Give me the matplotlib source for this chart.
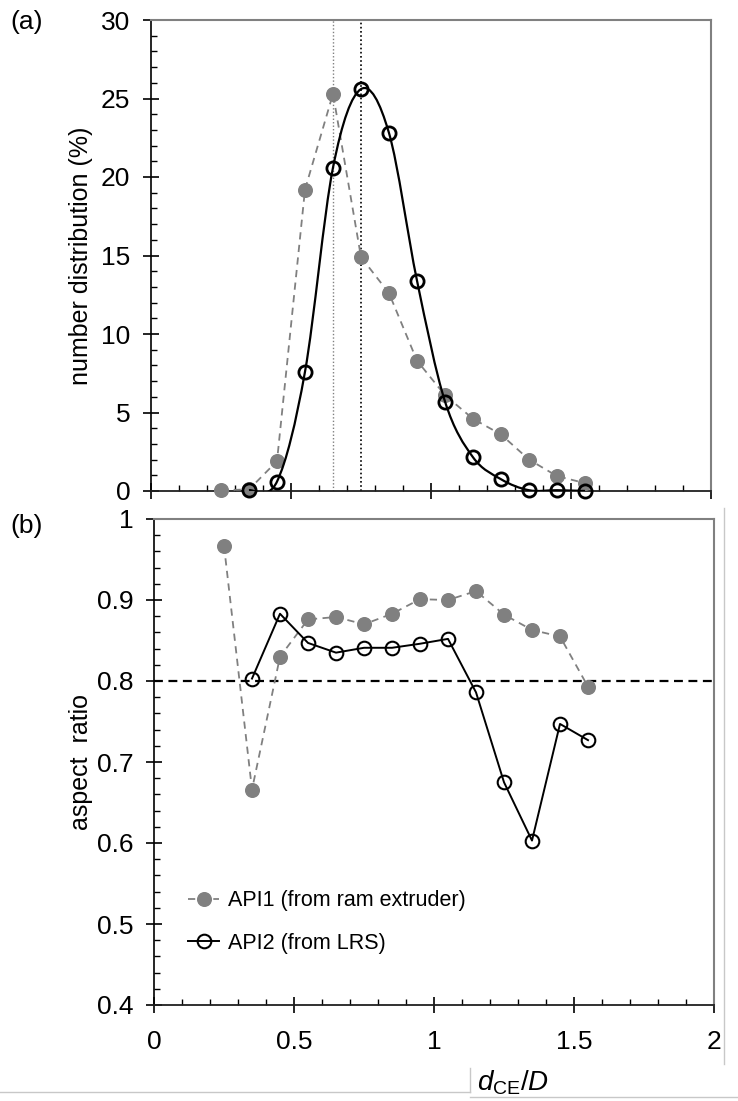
import numpy as np
import matplotlib
matplotlib.use("Agg")
import matplotlib.pyplot as plt
from matplotlib.path import Path
from matplotlib.patches import PathPatch
from matplotlib.lines import Line2D
from matplotlib.ticker import MultipleLocator, NullFormatter

plt.rcParams['font.family'] = ['Liberation Sans', 'DejaVu Sans']
plt.rcParams['mathtext.fontset'] = 'custom'
plt.rcParams['mathtext.rm'] = 'Liberation Sans'
plt.rcParams['mathtext.it'] = 'Liberation Sans:italic'

# ---------------- data ----------------
size_api1 = [0.25, 0.35, 0.45, 0.55, 0.65, 0.75, 0.85, 0.95, 1.05, 1.15, 1.25, 1.35, 1.45, 1.55]
dist_api1 = [0.05, 0.1, 1.9, 19.2, 25.3, 14.9, 12.6, 8.3, 6.1, 4.6, 3.6, 2.0, 0.95, 0.5]

size_api2 = [0.35, 0.45, 0.55, 0.65, 0.75, 0.85, 0.95, 1.05, 1.15, 1.25, 1.35, 1.45, 1.55]
dist_api2 = [0.05, 0.6, 7.6, 20.6, 25.6, 22.8, 13.4, 5.7, 2.15, 0.75, 0.05, 0.05, 0.0]

ar_api1 = [0.967, 0.666, 0.830, 0.876, 0.879, 0.870, 0.883, 0.901, 0.900, 0.911, 0.882, 0.863, 0.855, 0.793]
ar_api2 = [0.803, 0.883, 0.847, 0.835, 0.841, 0.841, 0.846, 0.852, 0.786, 0.675, 0.603, 0.747, 0.727]

peak_api1 = 0.65
peak_api2 = 0.75
ar_threshold = 0.8

label_api1 = 'API1 (from ram extruder)'
label_api2 = 'API2 (from LRS)'

GRAY = '#808080'

W, H = 738, 1101
fig = plt.figure(figsize=(W / 100, H / 100), dpi=100)

def fx(px):
    return px / W

def fy(py):
    return 1 - py / H

ax1 = fig.add_axes([fx(151), fy(491), 560 / W, (491 - 20) / H])
ax2 = fig.add_axes([fx(154), fy(1005), 560 / W, (1005 - 519) / H])


def smooth_path(xs, ys):
    """Excel-like smoothed line as cubic Bezier segments (Catmull-Rom control points)."""
    pts = np.column_stack([xs, ys]).astype(float)
    n = len(pts)
    verts = [pts[0]]
    codes = [Path.MOVETO]
    for i in range(n - 1):
        p0 = pts[i - 1] if i > 0 else pts[i]
        p1 = pts[i]
        p2 = pts[i + 1]
        p3 = pts[i + 2] if i + 2 < n else pts[i + 1]
        c1 = p1 + (p2 - p0) / 6.0
        c2 = p2 - (p3 - p1) / 6.0
        verts += [c1, c2, p2]
        codes += [Path.CURVE4] * 3
    return Path(verts, codes)


# ---------------- panel (a) ----------------
ax1.axvline(peak_api1, color=GRAY, ls=(0, (1, 1.5)), lw=1.0, zorder=1)
ax1.axvline(peak_api2, color='black', ls=(0, (1, 1.5)), lw=1.2, zorder=1)

ax1.plot(size_api1, dist_api1, ls=(0, (4, 3)), color=GRAY, lw=1.3,
         marker='o', ms=9.8, mfc=GRAY, mec=GRAY, zorder=3, clip_on=False)
ax1.add_patch(PathPatch(smooth_path(size_api2, dist_api2), fill=False,
                        ec='black', lw=1.6, zorder=4))
ax1.plot(size_api2, dist_api2, ls='none', marker='o', ms=9.5, mfc='none',
         mec='black', mew=2.0, zorder=5, clip_on=False)

ax1.set_xlim(0, 2)
ax1.set_ylim(0, 30)
ax1.xaxis.set_major_locator(MultipleLocator(0.5))
ax1.xaxis.set_minor_locator(MultipleLocator(0.1))
ax1.xaxis.set_major_formatter(NullFormatter())
ax1.yaxis.set_major_locator(MultipleLocator(5))
ax1.yaxis.set_minor_locator(MultipleLocator(1))
ax1.set_ylabel('number distribution (%)', fontsize=18)
ax1.yaxis.set_label_coords((93 - 151) / 560, 0.5)

# ---------------- panel (b) ----------------
ax2.axhline(ar_threshold, color='black', ls=(0, (4, 2.5)), lw=1.6, zorder=1)
ax2.plot(size_api1, ar_api1, ls=(0, (4, 3)), color=GRAY, lw=1.3,
         marker='o', ms=9.8, mfc=GRAY, mec=GRAY, zorder=3, label=label_api1)
ax2.plot(size_api2, ar_api2, ls='-', color='black', lw=1.4,
         marker='o', ms=9.8, mfc='none', mec='black', mew=1.5, zorder=4,
         label=label_api2)

ax2.set_xlim(0, 2)
ax2.set_ylim(0.4, 1.0)
ax2.xaxis.set_major_locator(MultipleLocator(0.5))
ax2.xaxis.set_minor_locator(MultipleLocator(0.1))
ax2.yaxis.set_major_locator(MultipleLocator(0.1))
ax2.yaxis.set_minor_locator(MultipleLocator(0.02))
ax2.xaxis.set_major_formatter(plt.FuncFormatter(lambda v, p: f'{v:g}'))
ax2.yaxis.set_major_formatter(plt.FuncFormatter(lambda v, p: f'{v:g}'))
ax2.set_ylabel('aspect  ratio', fontsize=18)
ax2.yaxis.set_label_coords((93 - 154) / 560, 0.5)

leg = ax2.legend(loc='center left', bbox_to_anchor=((188 - 154) / 560, (1005 - 922) / 486),
                 frameon=False, fontsize=15.5, handlelength=1.45, handletextpad=0.4,
                 labelspacing=1.0, borderaxespad=0, borderpad=0)

for ax in (ax1, ax2):
    for s in ('top', 'right'):
        ax.spines[s].set_color(GRAY)
        ax.spines[s].set_linewidth(1.5)
    ax.spines['left'].set_color('black')
    ax.spines['left'].set_linewidth(1.2)
    ax.spines['bottom'].set_color('#202020')
    ax.spines['bottom'].set_linewidth(1.3)
    ax.tick_params(which='major', direction='inout', length=12, width=1.2,
                   labelsize=19, top=False, right=False)
    ax.tick_params(which='minor', direction='in', length=4, width=1.0,
                   top=False, right=False)
    ax.tick_params(axis='y', which='major', pad=9)
ax2.tick_params(axis='x', which='major', pad=12)

# panel labels and x label
fig.text(fx(10), fy(22), '(a)', fontsize=19, va='center', ha='left')
fig.text(fx(10), fy(526), '(b)', fontsize=19, va='center', ha='left')
fig.text(fx(513), fy(1083), r'$d_{\mathrm{CE}}/D$', fontsize=20, va='center', ha='center')

# thin frame remnants of the original figure
lc = '#c8c8c8'
fig.add_artist(Line2D([fx(0), fx(470)], [fy(1092), fy(1092)], color=lc, lw=1))
fig.add_artist(Line2D([fx(470), fx(470)], [fy(1092), fy(1068)], color=lc, lw=1))
fig.add_artist(Line2D([fx(470), fx(738)], [fy(1097), fy(1097)], color=lc, lw=1))
fig.add_artist(Line2D([fx(724), fx(724)], [fy(508), fy(1064)], color=lc, lw=1))

fig.savefig('out.png', dpi=100)
